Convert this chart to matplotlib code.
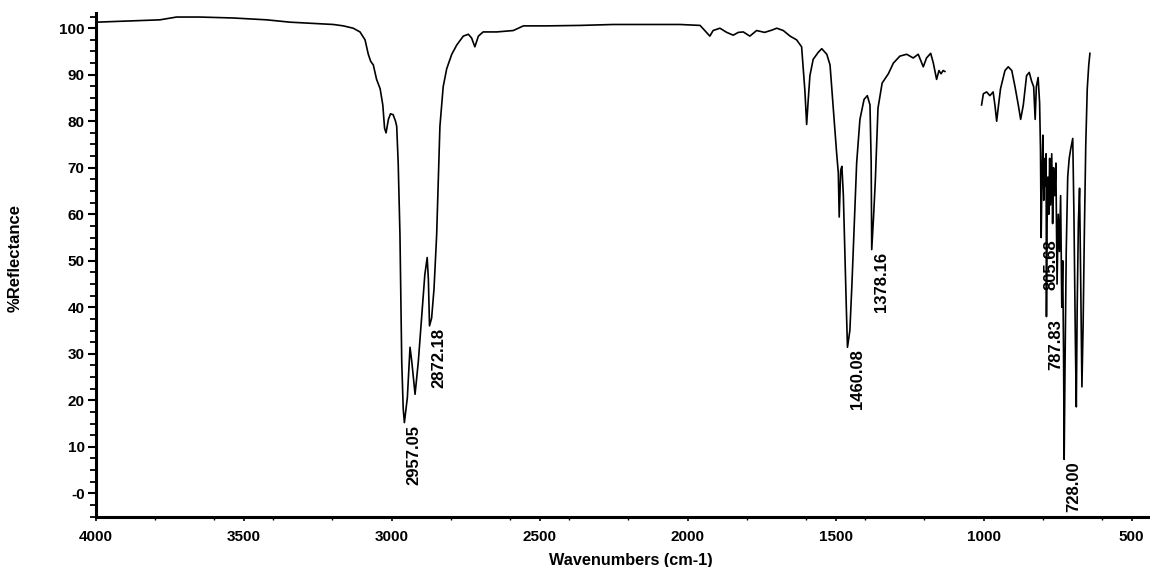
import numpy as np
import matplotlib
matplotlib.use("Agg")
import matplotlib.pyplot as plt
from matplotlib.ticker import FixedLocator, FixedFormatter, MultipleLocator

plt.rcParams["font.family"] = ["Liberation Sans", "DejaVu Sans"]
plt.rcParams["font.weight"] = "bold"

# Spectrum, 4000 - 1131 cm-1
wn_high = [3997, 3874, 3783, 3727, 3648, 3536, 3422, 3344, 3253, 3197, 3163, 3130,
           3107, 3090, 3079, 3071, 3062, 3051, 3039, 3030, 3024, 3019, 3011, 3004,
           2995, 2987, 2983, 2978, 2972, 2966, 2961, 2957.05, 2947, 2938, 2932, 2921,
           2910, 2899, 2888, 2880, 2876, 2872.18, 2865, 2857, 2848, 2837, 2826, 2814,
           2797, 2780, 2758, 2741, 2730, 2719, 2707, 2691, 2645, 2589, 2555, 2476,
           2364, 2251, 2139, 2026, 1958, 1942, 1925, 1914, 1891, 1868, 1846, 1829,
           1812, 1790, 1767, 1740, 1715, 1699, 1677, 1654, 1632, 1615, 1604, 1598,
           1593, 1587, 1576, 1559, 1547, 1530, 1519, 1508, 1497, 1491, 1488, 1483,
           1479, 1474, 1469, 1464, 1460.08, 1452, 1445, 1437, 1429, 1418, 1404, 1393,
           1384, 1380, 1378.16, 1372, 1366, 1357, 1343, 1322, 1305, 1283, 1260, 1238,
           1221, 1204, 1193, 1179, 1170, 1159, 1151, 1144, 1137, 1131]
r_high = [101.3, 101.6, 101.8, 102.4, 102.4, 102.2, 101.8, 101.3, 101.0, 100.8, 100.5, 100.0,
          99.2, 97.5, 94.4, 92.9, 92.1, 89.0, 87.0, 83.5, 78.5, 77.5, 80.4, 81.6,
          81.4, 80.0, 78.9, 71.1, 55.6, 28.3, 18.2, 15.2, 20.6, 31.4, 28.3, 21.3,
          28.3, 37.7, 47.0, 50.7, 46.0, 36.0, 37.7, 43.9, 55.6, 78.9, 87.4, 91.3,
          94.4, 96.4, 98.3, 98.7, 97.9, 96.0, 98.3, 99.2, 99.2, 99.5, 100.5, 100.5,
          100.6, 100.8, 100.8, 100.8, 100.6, 99.5, 98.3, 99.5, 100.0, 99.1, 98.5, 99.1,
          99.2, 98.3, 99.5, 99.1, 99.6, 100.0, 99.5, 98.3, 97.5, 96.0, 86.6, 79.3,
          84.3, 89.8, 93.3, 94.8, 95.6, 94.4, 92.1, 82.8, 73.4, 68.8, 59.4, 69.5,
          70.3, 64.1, 51.6, 40.0, 31.4, 35.0, 45.0, 58.0, 71.1, 80.4, 84.7, 85.5,
          83.5, 71.1, 52.4, 59.4, 67.2, 82.8, 88.2, 90.2, 92.5, 94.0, 94.4, 93.6,
          94.4, 91.7, 93.6, 94.6, 92.5, 89.0, 90.9, 90.2, 90.9, 90.7]

# Spectrum, 1007 - 641 cm-1
wn_low = [1007, 1001, 990, 979, 968, 962, 956, 951, 943, 928, 917, 905, 894, 883, 875,
          866, 855, 846, 838, 831, 826, 822, 816, 811, 808, 805.68, 803, 800, 797, 794,
          791, 789, 787.83, 786, 783, 780, 777, 774, 770, 767, 764, 760, 756, 752, 748,
          744, 740, 736, 733, 730, 728.00, 725, 721, 716, 711, 706, 699, 695, 690, 687,
          684, 680, 676, 672, 668, 664, 660, 655, 650, 645, 641]
r_low = [83.5, 85.9, 86.3, 85.5, 86.3, 83.5, 80.0, 82.8, 87.0, 90.9, 91.7, 90.9, 87.4, 83.5, 80.4,
         83.5, 89.8, 90.5, 88.6, 87.4, 80.4, 87.4, 89.4, 84.0, 74.0, 55.0, 68.0, 77.0, 63.0, 72.0,
         66.0, 73.0, 38.0, 58.0, 68.0, 60.0, 72.0, 62.0, 73.0, 58.0, 70.0, 64.0, 71.0, 45.0, 60.0,
         52.0, 64.0, 40.0, 50.0, 30.0, 7.3, 28.0, 52.0, 68.0, 72.0, 74.0, 76.3, 60.0, 32.0, 18.6,
         40.0, 58.0, 65.6, 45.0, 22.9, 36.0, 55.0, 75.0, 87.0, 92.0, 94.6]

peak_labels = [2957.05, 2872.18, 1460.08, 1378.16, 805.68, 787.83, 728.00]

x_ticks = [4000, 3500, 3000, 2500, 2000, 1500, 1000, 500]
y_ticks = [0, 10, 20, 30, 40, 50, 60, 70, 80, 90, 100]
y_tick_labels = ["-0", "10", "20", "30", "40", "50", "60", "70", "80", "90", "100"]

fig = plt.figure(figsize=(11.5, 5.67), dpi=100)
ax = fig.add_axes([0.0832, 0.0889, 0.9168, 0.8876])

ax.plot(wn_high, r_high, color="black", lw=1.2)
ax.plot(wn_low, r_low, color="black", lw=1.2)

ax.set_xlim(4000, 438)
ax.set_ylim(-5, 103.2)

# Peak annotations: reflectance taken from the trace at the labelled wavenumber
wn_all = np.array(wn_high + wn_low)
r_all = np.array(r_high + r_low)
for w in peak_labels:
    r = r_all[np.argmin(np.abs(wn_all - w))]
    ax.annotate(f"{w:.2f}", xy=(w, r), xytext=(7, -1.5), textcoords="offset points",
                rotation=90, ha="center", va="top", fontsize=12, fontweight="bold")

ax.xaxis.set_major_locator(FixedLocator(x_ticks))
ax.xaxis.set_minor_locator(MultipleLocator(200))
ax.yaxis.set_major_locator(FixedLocator(y_ticks))
ax.yaxis.set_major_formatter(FixedFormatter(y_tick_labels))
ax.yaxis.set_minor_locator(MultipleLocator(2.5))

ax.tick_params(axis="x", which="major", direction="out", length=3, width=1.2,
               pad=7, labelsize=11)
ax.tick_params(axis="x", which="minor", direction="out", length=2, width=1.0)
ax.tick_params(axis="y", which="major", direction="out", length=6, width=1.5,
               pad=2, labelsize=11)
ax.tick_params(axis="y", which="minor", direction="out", length=4, width=1.3)

for side in ("top", "right"):
    ax.spines[side].set_visible(False)
for side in ("left", "bottom"):
    ax.spines[side].set_linewidth(2.2)

fig.text(631 / 1150, 1 - 560 / 567, "Wavenumbers (cm-1)", ha="center", va="center",
         fontsize=11.7, fontweight="bold")
fig.text(15 / 1150, 1 - 258 / 567, "%Reflectance", ha="center", va="center",
         rotation=90, fontsize=12, fontweight="bold")

fig.savefig("out.png", dpi=100)
